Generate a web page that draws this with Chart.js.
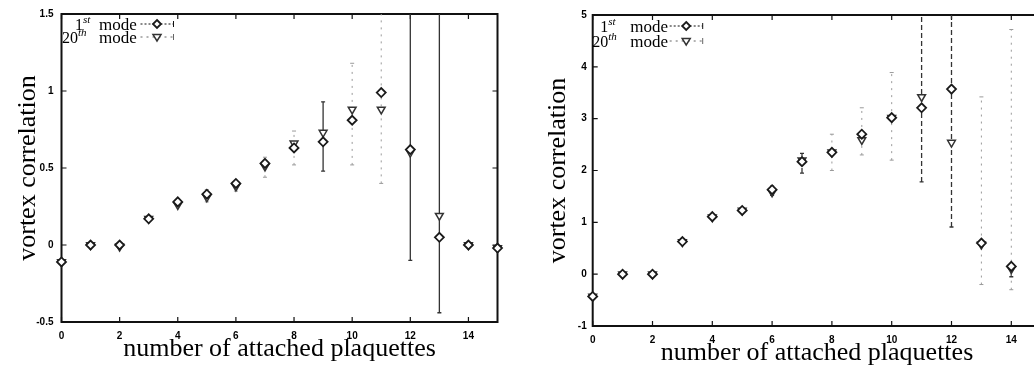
<!DOCTYPE html>
<html>
<head>
<meta charset="utf-8">
<script src="https://cdn.jsdelivr.net/npm/chart.js@4"></script>
<style>
  body { margin: 0; background: #fff; width: 1034px; height: 370px; overflow: hidden; position: relative; }
  canvas { position: absolute; top: 0; }
  #left-chart { left: 0; }
  #right-chart { left: 520px; }
</style>
</head>
<body>
<canvas id="left-chart" width="520" height="370"></canvas>
<canvas id="right-chart" width="540" height="370"></canvas>
<script>
/* vortex correlation vs number of attached plaquettes, two panels */

/***** data *****/
const leftX = [0, 1, 2, 3, 4, 5, 6, 7, 8, 9, 10, 11, 12, 13, 14, 15];
const leftMode1  = [-0.11, 0.00, 0.00, 0.17, 0.28, 0.33, 0.40, 0.53, 0.63, 0.67, 0.81, 0.99, 0.62, 0.05, 0.00, -0.02];
const leftMode20 = [-0.11, 0.00, -0.01, 0.17, 0.26, 0.31, 0.38, 0.51, 0.66, 0.73, 0.88, 0.88, 0.60, 0.19, 0.00, -0.02];
const leftErr1Lo  = [null, null, null, null, null, null, null, null, null, 0.48, null, null, -0.10, -0.44, null, null];
const leftErr1Hi  = [null, null, null, null, null, null, null, null, null, 0.93, null, null, 1.60, 1.60, null, null];
const leftErr20Lo = [null, null, null, null, null, 0.28, 0.35, 0.44, 0.52, null, 0.52, 0.40, null, null, null, null];
const leftErr20Hi = [null, null, null, null, null, 0.36, 0.42, 0.57, 0.74, null, 1.18, 1.60, null, null, null, null];

const rightX = [0, 1, 2, 3, 4, 5, 6, 7, 8, 9, 10, 11, 12, 13, 14];
const rightMode1  = [-0.43, 0.00, 0.00, 0.63, 1.11, 1.23, 1.63, 2.17, 2.35, 2.70, 3.02, 3.21, 3.57, 0.60, 0.15];
const rightMode20 = [-0.43, 0.00, 0.00, 0.62, 1.10, 1.23, 1.58, 2.20, 2.35, 2.59, 3.02, 3.42, 2.54, 0.57, 0.10];
const rightErr1Lo  = [null, null, null, null, null, null, 1.52, 1.95, null, null, null, 1.78, 0.91, null, -0.05];
const rightErr1Hi  = [null, null, null, null, null, null, 1.70, 2.33, null, null, null, 5.20, 5.20, null, 0.20];
const rightErr20Lo = [null, null, null, null, null, null, null, null, 2.00, 2.30, 2.20, null, null, -0.20, -0.30];
const rightErr20Hi = [null, null, null, null, null, null, null, null, 2.70, 3.21, 3.89, null, null, 3.42, 4.72];

const xTicks = [0, 2, 4, 6, 8, 10, 12, 14];
const leftYTicks = [-0.5, 0, 0.5, 1, 1.5];
const rightYTicks = [-1, 0, 1, 2, 3, 4, 5];

const keyNumbers = ['1', '20'];
const keySuffixes = ['st', 'th'];
const keyWord = 'mode';

const serif = '"Liberation Serif", "Times New Roman", serif';
const sans = '"Liberation Sans", Arial, sans-serif';

/***** plugins *****/
// vertical error bars, drawn through the scales, clipped to the plot frame
const errorBars = {
    id: 'errorBars',
    beforeDatasetsDraw(chart) {
        const {ctx, chartArea: a, scales} = chart;
        ctx.save();
        ctx.beginPath();
        ctx.rect(a.left, a.top, a.width, a.height);
        ctx.clip();
        chart.data.datasets.forEach(ds => {
            if (!ds.errLo) return;
            ctx.strokeStyle = ds.errColor;
            ctx.lineWidth = ds.errWidth;
            ds.data.forEach((p, i) => {
                const lo = ds.errLo[i], hi = ds.errHi[i];
                if (lo == null) return;
                const x = scales.x.getPixelForValue(p.x);
                const y1 = scales.y.getPixelForValue(lo);
                const y2 = scales.y.getPixelForValue(hi);
                ctx.setLineDash(ds.errDash);
                ctx.beginPath();
                ctx.moveTo(x, y1); ctx.lineTo(x, y2);
                ctx.stroke();
                ctx.setLineDash([]);
                ctx.beginPath();
                ctx.moveTo(x - 2, y1); ctx.lineTo(x + 2, y1);
                ctx.moveTo(x - 2, y2); ctx.lineTo(x + 2, y2);
                ctx.stroke();
            });
        });
        ctx.restore();
    }
};

// gnuplot style frame with inward ticks on all four sides
const frame = {
    id: 'frame',
    beforeDatasetsDraw(chart) {
        const {ctx, chartArea: a, scales} = chart;
        ctx.save();
        ctx.strokeStyle = '#111';
        ctx.lineWidth = 2;
        ctx.strokeRect(a.left, a.top, a.width, a.height);
        ctx.lineWidth = 1.2;
        ctx.beginPath();
        scales.x.ticks.forEach(t => {
            const x = scales.x.getPixelForValue(t.value);
            ctx.moveTo(x, a.bottom); ctx.lineTo(x, a.bottom - 5);
            ctx.moveTo(x, a.top); ctx.lineTo(x, a.top + 5);
        });
        scales.y.ticks.forEach(t => {
            const y = scales.y.getPixelForValue(t.value);
            ctx.moveTo(a.left, y); ctx.lineTo(a.left + 5, y);
            ctx.moveTo(a.right, y); ctx.lineTo(a.right - 5, y);
        });
        ctx.stroke();
        ctx.restore();
    }
};

function drawMarker(ctx, style, x, y, r) {
    ctx.save();
    ctx.beginPath();
    if (style === 'diamond') {
        ctx.moveTo(x, y - r); ctx.lineTo(x + r, y); ctx.lineTo(x, y + r); ctx.lineTo(x - r, y);
    } else {
        ctx.moveTo(x - r, y - r * 0.6); ctx.lineTo(x + r, y - r * 0.6); ctx.lineTo(x, y + r);
    }
    ctx.closePath();
    ctx.fillStyle = '#fff';
    ctx.fill();
    ctx.stroke();
    ctx.restore();
}

// key in the top left corner: "1st mode" / "20th mode" with superscripts
const modeKey = {
    id: 'modeKey',
    afterDatasetsDraw(chart, args, o) {
        const {ctx, chartArea: a} = chart;
        ctx.save();
        ctx.textBaseline = 'alphabetic';
        keyNumbers.forEach((num, i) => {
            const base = a.top + o.rows[i];
            ctx.fillStyle = '#000';
            ctx.font = '16px ' + serif;
            const nx = a.left + o.numX[i];
            ctx.fillText(num, nx, base);
            const w = ctx.measureText(num).width;
            ctx.font = 'italic 11px ' + serif;
            ctx.fillText(keySuffixes[i], nx + w, base - 7);
            ctx.font = '17px ' + serif;
            ctx.fillText(keyWord, a.left + o.wordX, base);

            const ly = base - 6;
            const x1 = a.left + o.lineX[0], x2 = a.left + o.lineX[1];
            ctx.strokeStyle = i === 0 ? '#111' : '#666';
            ctx.lineWidth = 1;
            ctx.setLineDash(i === 0 ? [2, 2] : [2, 4]);
            ctx.beginPath();
            ctx.moveTo(x1, ly); ctx.lineTo(x2, ly);
            ctx.stroke();
            ctx.setLineDash([]);
            ctx.beginPath();
            ctx.moveTo(x2, ly - 3); ctx.lineTo(x2, ly + 3);
            ctx.stroke();
            ctx.strokeStyle = i === 0 ? '#1a1a1a' : '#333';
            ctx.lineWidth = i === 0 ? 1.8 : 1.5;
            drawMarker(ctx, i === 0 ? 'diamond' : 'triangle', (x1 + x2) / 2, ly, 4);
        });
        ctx.restore();
    }
};

/***** chart builder *****/
function panel(canvasId, xs, m1, m20, e1, e20, yMin, yMax, yTicks, box) {
    const pts = arr => xs.map((x, i) => ({x: x, y: arr[i]}));
    return new Chart(document.getElementById(canvasId), {
        type: 'scatter',
        data: {
            datasets: [{
                label: '1st mode',
                data: pts(m1),
                pointStyle: 'rectRot',
                pointRadius: 4.5,
                pointBorderWidth: 1.8,
                pointBorderColor: '#1a1a1a',
                pointBackgroundColor: '#fff',
                clip: false,
                errLo: e1[0], errHi: e1[1],
                errColor: box.err1Color, errWidth: 1.3, errDash: box.err1Dash
            }, {
                label: '20th mode',
                data: pts(m20),
                pointStyle: 'triangle',
                rotation: 180,
                pointRadius: 4.5,
                pointBorderWidth: 1.5,
                pointBorderColor: '#333',
                pointBackgroundColor: '#fff',
                clip: false,
                errLo: e20[0], errHi: e20[1],
                errColor: '#9a9a9a', errWidth: 1, errDash: [2, 5]
            }]
        },
        options: {
            responsive: false,
            animation: false,
            layout: {
                padding: {top: box.top, right: box.right, left: 0, bottom: 0}
            },
            scales: {
                x: {
                    type: 'linear',
                    min: 0,
                    max: 15,
                    afterBuildTicks: s => { s.ticks = xTicks.map(v => ({value: v})); },
                    afterFit: s => { s.height = box.xHeight; },
                    grid: {display: false, drawTicks: false},
                    border: {display: false},
                    ticks: {
                        padding: 8,
                        color: '#000',
                        autoSkip: false,
                        maxRotation: 0,
                        font: {family: sans, size: 10, weight: 'bold'}
                    },
                    title: {
                        display: true,
                        text: 'number of attached plaquettes',
                        color: '#000',
                        font: {family: serif, size: 26},
                        padding: {top: 0, bottom: box.xTitlePad}
                    }
                },
                y: {
                    type: 'linear',
                    min: yMin,
                    max: yMax,
                    afterBuildTicks: s => { s.ticks = yTicks.map(v => ({value: v})); },
                    afterFit: s => { s.width = box.yWidth; },
                    grid: {display: false, drawTicks: false},
                    border: {display: false},
                    ticks: {
                        padding: box.yTickPad,
                        color: '#000',
                        callback: v => String(v),
                        font: {family: sans, size: 10, weight: 'bold'}
                    },
                    title: {
                        display: true,
                        text: 'vortex correlation',
                        color: '#000',
                        font: {family: serif, size: 26},
                        padding: {top: box.yTitlePad, bottom: 0}
                    }
                }
            },
            plugins: {
                legend: {display: false},
                tooltip: {enabled: false},
                modeKey: box.key
            }
        },
        plugins: [frame, errorBars, modeKey]
    });
}

/***** left panel *****/
let leftChart = panel('left-chart', leftX, leftMode1, leftMode20,
    [leftErr1Lo, leftErr1Hi], [leftErr20Lo, leftErr20Hi], -0.5, 1.5, leftYTicks, {
        top: 11, right: 22.5, xHeight: 48, yWidth: 61.5, yTickPad: 8,
        xTitlePad: 5, yTitlePad: 13,
        err1Color: '#333', err1Dash: [],
        key: {rows: [16, 29], numX: [13.5, 0.5], wordX: 37.5, lineX: [79, 112]}
    });

/***** right panel *****/
let rightChart = panel('right-chart', rightX, rightMode1, rightMode20,
    [rightErr1Lo, rightErr1Hi], [rightErr20Lo, rightErr20Hi], -1, 5, rightYTicks, {
        top: 15, right: 18.8, xHeight: 44, yWidth: 72.7, yTickPad: 6,
        xTitlePad: 1, yTitlePad: 22.7,
        err1Color: '#333', err1Dash: [5, 3],
        key: {rows: [17, 32], numX: [7.5, -0.5], wordX: 37.5, lineX: [77, 110]}
    });
</script>
</body>
</html>
